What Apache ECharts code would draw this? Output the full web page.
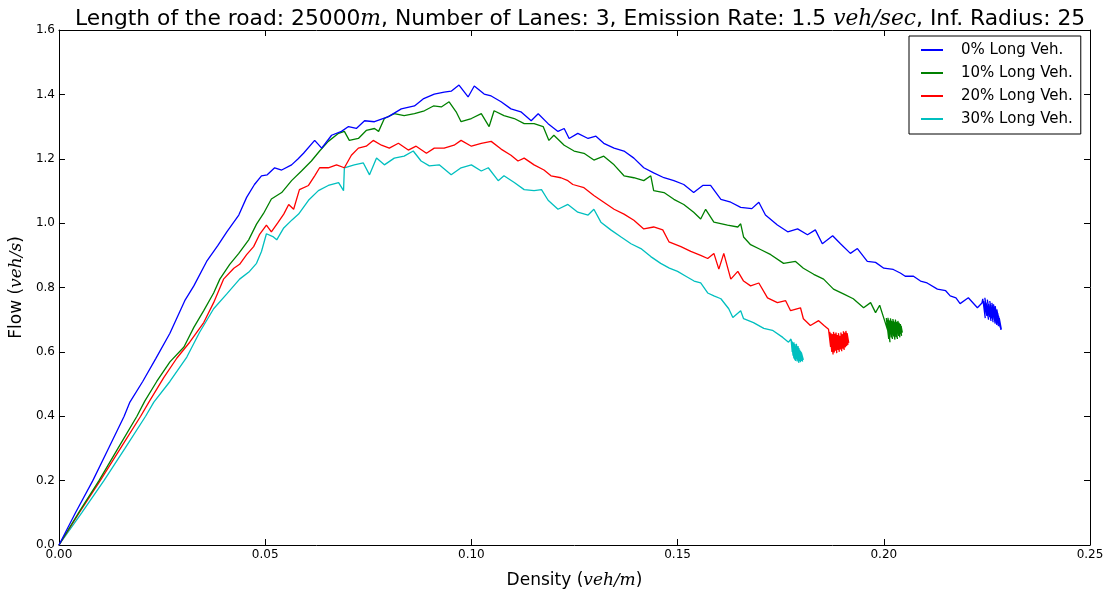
<!DOCTYPE html>
<html>
<head>
<meta charset="utf-8">
<script src="https://cdn.jsdelivr.net/npm/echarts@6/dist/echarts.min.js"></script>
<style>
  html, body { margin: 0; padding: 0; background: #fff; }
  #chart { width: 1110px; height: 594px; }
</style>
</head>
<body>
<div id="chart"></div>
<script>
// density (veh/m), flow (veh/s)
const veh0 = [
  [0,0],[0.0040,0.100],[0.0082,0.200],[0.0120,0.300],[0.0158,0.400],[0.0172,0.444],[0.0203,0.508],[0.0235,0.580],
  [0.0269,0.658],[0.0305,0.759],[0.0327,0.805],[0.0358,0.881],[0.0385,0.930],[0.0407,0.973],[0.0436,1.025],[0.0455,1.080],
  [0.0474,1.120],[0.0491,1.147],[0.0505,1.150],[0.0523,1.172],[0.0540,1.165],[0.0564,1.181],[0.0580,1.200],[0.0593,1.217],
  [0.0620,1.257],[0.0637,1.233],[0.0661,1.273],[0.0685,1.285],[0.0702,1.300],[0.0721,1.294],[0.0741,1.318],[0.0765,1.315],
  [0.0799,1.331],[0.0830,1.355],[0.0862,1.364],[0.0883,1.386],[0.0910,1.401],[0.0934,1.407],[0.0951,1.410],[0.0970,1.429],
  [0.0992,1.392],[0.1007,1.426],[0.1031,1.401],[0.1048,1.395],[0.1072,1.377],[0.1096,1.355],[0.1120,1.346],[0.1145,1.318],
  [0.1162,1.340],[0.1186,1.309],[0.1210,1.285],[0.1225,1.294],[0.1237,1.263],[0.1258,1.279],[0.1283,1.263],[0.1302,1.270],
  [0.1321,1.248],[0.1346,1.233],[0.1370,1.224],[0.1394,1.202],[0.1418,1.172],[0.1442,1.156],[0.1467,1.141],[0.1491,1.132],
  [0.1515,1.120],[0.1539,1.095],[0.1561,1.117],[0.1580,1.117],[0.1605,1.074],[0.1629,1.065],[0.1653,1.049],[0.1680,1.045],
  [0.1697,1.065],[0.1713,1.025],[0.1742,0.994],[0.1767,0.973],[0.1791,0.982],[0.1815,0.964],[0.1834,0.979],[0.1851,0.936],
  [0.1876,0.961],[0.1895,0.936],[0.1919,0.906],[0.1936,0.921],[0.1960,0.881],[0.1980,0.878],[0.2000,0.860],[0.2023,0.856],
  [0.2040,0.845],[0.2052,0.835],[0.2072,0.835],[0.2089,0.820],[0.2105,0.814],[0.2130,0.795],[0.2150,0.790],[0.2161,0.774],
  [0.2175,0.768],[0.2185,0.750],[0.2205,0.768],[0.2227,0.737],[0.2238,0.752],
  [0.2240,0.765],[0.2246,0.705],[0.2242,0.758],[0.2250,0.712],[0.2245,0.768],[0.2254,0.700],[0.2248,0.752],[0.2257,0.708],
  [0.2251,0.762],[0.2260,0.696],[0.2254,0.748],[0.2262,0.704],[0.2257,0.758],[0.2265,0.692],[0.2259,0.745],[0.2268,0.700],
  [0.2262,0.752],[0.2270,0.688],[0.2264,0.740],[0.2272,0.695],[0.2266,0.748],[0.2274,0.684],[0.2268,0.735],[0.2276,0.690],
  [0.2270,0.742],[0.2278,0.680],[0.2272,0.728],[0.2280,0.686],[0.2274,0.732],[0.2282,0.676],[0.2276,0.720],[0.2283,0.682],
  [0.2278,0.712],[0.2285,0.670],[0.2280,0.705],[0.2284,0.668]
];
const veh10 = [
  [0,0],[0.0050,0.105],[0.0097,0.200],[0.0143,0.300],[0.0189,0.400],[0.0208,0.447],[0.0237,0.508],[0.0269,0.569],
  [0.0303,0.615],[0.0327,0.676],[0.0351,0.728],[0.0375,0.783],[0.0390,0.826],[0.0414,0.872],[0.0436,0.906],[0.0460,0.948],
  [0.0479,0.997],[0.0496,1.030],[0.0515,1.075],[0.0540,1.095],[0.0564,1.132],[0.0588,1.162],[0.0612,1.193],[0.0632,1.224],
  [0.0653,1.254],[0.0678,1.279],[0.0692,1.285],[0.0704,1.257],[0.0726,1.263],[0.0745,1.288],[0.0765,1.294],[0.0775,1.285],
  [0.0789,1.325],[0.0813,1.340],[0.0837,1.334],[0.0862,1.340],[0.0886,1.349],[0.0908,1.364],[0.0927,1.361],[0.0946,1.377],
  [0.0963,1.346],[0.0975,1.315],[0.1000,1.325],[0.1024,1.340],[0.1043,1.300],[0.1055,1.349],[0.1079,1.334],[0.1104,1.325],
  [0.1128,1.309],[0.1152,1.309],[0.1174,1.300],[0.1188,1.257],[0.1200,1.273],[0.1225,1.242],[0.1249,1.224],[0.1273,1.217],
  [0.1297,1.196],[0.1321,1.208],[0.1346,1.181],[0.1370,1.147],[0.1394,1.141],[0.1418,1.132],[0.1435,1.147],[0.1442,1.101],
  [0.1467,1.095],[0.1491,1.074],[0.1515,1.058],[0.1539,1.034],[0.1556,1.013],[0.1568,1.043],[0.1588,1.003],[0.1621,0.994],
  [0.1646,0.988],[0.1653,0.998],[0.1660,0.957],[0.1677,0.933],[0.1701,0.918],[0.1726,0.902],[0.1757,0.875],[0.1786,0.881],
  [0.1805,0.860],[0.1830,0.841],[0.1854,0.826],[0.1878,0.795],[0.1902,0.780],[0.1926,0.765],[0.1951,0.737],[0.1968,0.753],
  [0.1980,0.722],[0.1990,0.745],[0.2000,0.705],
  [0.2004,0.710],[0.2010,0.665],[0.2006,0.705],[0.2012,0.640],[0.2008,0.700],[0.2015,0.630],[0.2010,0.706],[0.2018,0.645],
  [0.2013,0.698],[0.2021,0.640],[0.2016,0.704],[0.2024,0.648],[0.2019,0.696],[0.2027,0.638],[0.2022,0.702],[0.2030,0.646],
  [0.2025,0.694],[0.2033,0.640],[0.2028,0.700],[0.2036,0.650],[0.2031,0.692],[0.2039,0.645],[0.2034,0.696],[0.2041,0.655],
  [0.2037,0.690],[0.2043,0.650],[0.2040,0.686],[0.2045,0.660],[0.2042,0.680]
];
const veh20 = [
  [0,0],[0.0050,0.102],[0.0100,0.200],[0.0149,0.300],[0.0198,0.400],[0.0218,0.444],[0.0254,0.520],[0.0286,0.581],
  [0.0317,0.630],[0.0351,0.691],[0.0375,0.753],[0.0399,0.826],[0.0424,0.860],[0.0438,0.872],[0.0455,0.902],[0.0472,0.927],
  [0.0486,0.964],[0.0503,0.994],[0.0515,0.973],[0.0530,1.000],[0.0545,1.028],[0.0557,1.058],[0.0569,1.043],[0.0583,1.104],
  [0.0605,1.117],[0.0620,1.147],[0.0632,1.172],[0.0653,1.172],[0.0673,1.181],[0.0692,1.172],[0.0709,1.211],[0.0726,1.233],
  [0.0745,1.239],[0.0762,1.257],[0.0782,1.242],[0.0801,1.233],[0.0823,1.248],[0.0847,1.227],[0.0866,1.239],[0.0891,1.217],
  [0.0910,1.233],[0.0934,1.233],[0.0958,1.242],[0.0975,1.257],[0.1000,1.239],[0.1024,1.248],[0.1048,1.254],[0.1072,1.230],
  [0.1096,1.211],[0.1113,1.193],[0.1128,1.202],[0.1152,1.181],[0.1176,1.165],[0.1193,1.147],[0.1217,1.141],[0.1234,1.132],
  [0.1246,1.120],[0.1273,1.110],[0.1297,1.086],[0.1321,1.065],[0.1346,1.043],[0.1370,1.028],[0.1394,1.009],[0.1418,0.982],
  [0.1442,0.988],[0.1464,0.979],[0.1479,0.942],[0.1508,0.927],[0.1532,0.912],[0.1556,0.900],[0.1573,0.890],[0.1588,0.906],
  [0.1600,0.857],[0.1612,0.906],[0.1629,0.826],[0.1646,0.850],[0.1660,0.820],[0.1677,0.805],[0.1697,0.814],[0.1718,0.768],
  [0.1742,0.753],[0.1762,0.759],[0.1774,0.728],[0.1798,0.737],[0.1805,0.703],[0.1822,0.682],[0.1842,0.697],[0.1855,0.682],
  [0.1866,0.670],
  [0.1867,0.668],[0.1871,0.615],[0.1869,0.662],[0.1874,0.600],[0.1872,0.658],[0.1877,0.592],[0.1875,0.655],[0.1880,0.598],
  [0.1878,0.662],[0.1883,0.604],[0.1881,0.656],[0.1886,0.596],[0.1884,0.660],[0.1889,0.606],[0.1887,0.652],[0.1892,0.600],
  [0.1890,0.658],[0.1895,0.608],[0.1893,0.650],[0.1898,0.602],[0.1896,0.660],[0.1901,0.610],[0.1899,0.655],[0.1904,0.606],
  [0.1902,0.664],[0.1907,0.614],[0.1905,0.660],[0.1910,0.618],[0.1908,0.665],[0.1913,0.622],[0.1911,0.658],[0.1915,0.628]
];
const veh30 = [
  [0,0],[0.0055,0.100],[0.0109,0.200],[0.0160,0.300],[0.0210,0.400],[0.0230,0.444],[0.0269,0.508],[0.0310,0.584],
  [0.0341,0.661],[0.0375,0.734],[0.0407,0.780],[0.0438,0.826],[0.0462,0.850],[0.0479,0.875],[0.0491,0.912],[0.0503,0.967],
  [0.0520,0.957],[0.0528,0.948],[0.0545,0.985],[0.0565,1.010],[0.0581,1.028],[0.0605,1.071],[0.0629,1.101],[0.0653,1.117],
  [0.0678,1.126],[0.0690,1.101],[0.0692,1.172],[0.0716,1.181],[0.0738,1.187],[0.0753,1.150],[0.0770,1.202],[0.0789,1.181],
  [0.0813,1.202],[0.0837,1.208],[0.0859,1.224],[0.0878,1.193],[0.0898,1.178],[0.0922,1.181],[0.0951,1.150],[0.0975,1.172],
  [0.1000,1.181],[0.1024,1.162],[0.1041,1.172],[0.1065,1.132],[0.1079,1.147],[0.1104,1.126],[0.1128,1.104],[0.1152,1.101],
  [0.1170,1.104],[0.1186,1.071],[0.1210,1.043],[0.1234,1.058],[0.1258,1.034],[0.1283,1.025],[0.1297,1.043],[0.1314,1.003],
  [0.1338,0.979],[0.1363,0.957],[0.1387,0.936],[0.1411,0.921],[0.1435,0.896],[0.1459,0.875],[0.1480,0.860],[0.1500,0.850],
  [0.1520,0.835],[0.1540,0.820],[0.1556,0.814],[0.1573,0.783],[0.1588,0.774],[0.1605,0.765],[0.1624,0.734],[0.1634,0.707],
  [0.1653,0.728],[0.1660,0.703],[0.1684,0.691],[0.1709,0.673],[0.1730,0.667],[0.1755,0.645],[0.1769,0.630],
  [0.1775,0.640],[0.1778,0.600],[0.1776,0.636],[0.1780,0.588],[0.1778,0.632],[0.1782,0.580],[0.1780,0.628],[0.1784,0.576],
  [0.1782,0.630],[0.1786,0.572],[0.1784,0.624],[0.1788,0.578],[0.1786,0.620],[0.1790,0.570],[0.1788,0.625],[0.1792,0.574],
  [0.1790,0.616],[0.1794,0.566],[0.1792,0.618],[0.1796,0.572],[0.1794,0.612],[0.1798,0.568],[0.1796,0.606],[0.1800,0.572],
  [0.1798,0.602],[0.1803,0.570],[0.1800,0.598],[0.1805,0.575]
];

const seriesNames = ['0% Long Veh.', '10% Long Veh.', '20% Long Veh.', '30% Long Veh.'];
const seriesColors = ['#0000ff', '#008000', '#ff0000', '#00bfbf'];
const seriesData = [veh0, veh10, veh20, veh30];

const xMin = 0, xMax = 0.25, xStep = 0.05;
const yMin = 0, yMax = 1.6, yStep = 0.2;

const chart = echarts.init(document.getElementById('chart'));
const font = 'DejaVu Sans';
const mathFont = 'DejaVu Serif';

const tick = { show: true, inside: true, length: 6, lineStyle: { color: '#000', width: 1 } };
const line = { show: true, onZero: false, lineStyle: { color: '#000', width: 1 } };

chart.setOption({
  animation: false,
  backgroundColor: '#fff',
  title: {
    text: '{a|Length of the road: 25000}{m|m}{a|, Number of Lanes: 3, Emission Rate: 1.5 }{m|veh/sec}{a|, Inf. Radius: 25}',
    left: 70,
    top: 3,
    textStyle: {
      fontWeight: 'normal',
      rich: {
        a: { fontFamily: font, fontSize: 21.8, fontWeight: 'normal', color: '#000' },
        m: { fontFamily: mathFont, fontStyle: 'italic', fontWeight: 'normal', fontSize: 21.8, color: '#000' },
      },
    },
  },
  legend: {
    orient: 'vertical',
    left: 909,
    top: 36,
    padding: [5, 8, 6, 12],
    itemGap: 5,
    itemWidth: 22,
    itemHeight: 2,
    icon: 'rect',
    backgroundColor: '#fff',
    borderColor: '#000',
    borderWidth: 1,
    borderRadius: 0,
    data: seriesNames,
    textStyle: { fontFamily: font, fontSize: 15, color: '#000', lineHeight: 18, padding: [0, 0, 0, 13] },
  },
  grid: { left: 57, right: 20, top: 30, bottom: 41 },
  xAxis: [
    {
      type: 'value', min: xMin, max: xMax, interval: xStep,
      axisLine: line, axisTick: tick, splitLine: { show: false },
      axisLabel: { fontFamily: font, fontSize: 12, color: '#000', margin: 4, formatter: (v) => v.toFixed(2) },
      name: '{n|Density (}{m|veh/m}{n|)}',
      nameLocation: 'middle',
      nameGap: 27,
      nameTextStyle: {
        rich: {
          n: { fontFamily: font, fontSize: 17, color: '#000' },
          m: { fontFamily: mathFont, fontStyle: 'italic', fontSize: 17, color: '#000' },
        },
      },
    },
    {
      type: 'value', position: 'top', min: xMin, max: xMax, interval: xStep,
      axisLine: line, axisTick: tick, axisLabel: { show: false }, splitLine: { show: false },
    },
  ],
  yAxis: [
    {
      type: 'value', min: yMin, max: yMax, interval: yStep,
      axisLine: line, axisTick: tick, splitLine: { show: false },
      axisLabel: { fontFamily: font, fontSize: 12, color: '#000', margin: 4, formatter: (v) => v.toFixed(1) },
      name: '{n|Flow (}{m|veh/s}{n|)}',
      nameLocation: 'middle',
      nameRotate: 90,
      nameGap: 27,
      nameTextStyle: {
        rich: {
          n: { fontFamily: font, fontSize: 17, color: '#000' },
          m: { fontFamily: mathFont, fontStyle: 'italic', fontSize: 17, color: '#000' },
        },
      },
    },
    {
      type: 'value', position: 'right', min: yMin, max: yMax, interval: yStep,
      axisLine: line, axisTick: tick, axisLabel: { show: false }, splitLine: { show: false },
    },
  ],
  series: seriesData.map((d, i) => ({
    name: seriesNames[i],
    type: 'line',
    data: d,
    showSymbol: false,
    symbol: 'none',
    color: seriesColors[i],
    lineStyle: { color: seriesColors[i], width: 1.3 },
    z: 10 - i,
  })),
});
</script>
</body>
</html>
